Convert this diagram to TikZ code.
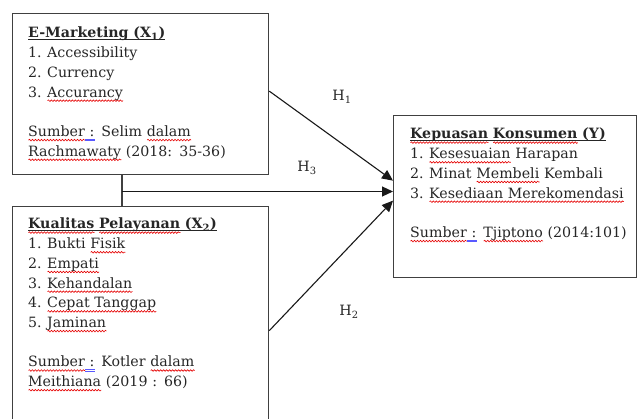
\documentclass[tikz,border=0pt]{standalone}
\usepackage{fontspec}
\setmainfont{DejaVu Serif}
\usetikzlibrary{arrows.meta,decorations.pathmorphing}
\newlength\wl
\newcommand\rw[1]{\leavevmode\settowidth\wl{#1}\rlap{\tikz[baseline=0pt]\draw[red!90!black, line width=0.6pt, decorate, decoration={snake, amplitude=0.8pt, segment length=3pt}] (0pt,-3.6pt) -- (\wl,-3.6pt);}#1}
\newcommand\bu[1]{\leavevmode\settowidth\wl{#1}\rlap{\tikz[baseline=0pt]{\draw[blue!65, line width=0.5pt] (0pt,-2.6pt) -- (\wl,-2.6pt); \draw[blue!65, line width=0.5pt] (0pt,-4pt) -- (\wl,-4pt);}}#1}
\newlength\ttlw
\newcommand\ttl[2]{\leavevmode\settowidth\ttlw{#1}\rlap{\rule[-2pt]{\ttlw}{0.7pt}}#2}
\newcommand\itm[1]{\makebox[19pt][l]{#1}}
\newcommand\fs{\fontsize{14.2}{19.7}\selectfont}
\begin{document}
\begin{tikzpicture}[x=1pt,y=-1pt,
  box/.style={draw=black!75, line width=1.3pt, inner sep=0, anchor=north west},
  txt/.style={anchor=base west, align=left, text width=235pt, inner sep=0, font=\fs, text=black!85},
  arr/.style={draw=black!90, line width=1.1pt, -{Triangle[length=11pt,width=10pt]}},
  conn/.style={draw=black!75, line width=1.1pt},
  lbl/.style={font=\fs, inner sep=0, text=black!85}]
\clip (0,0) rectangle (637,419);
\node[box, minimum width=256pt, minimum height=161pt] (b1) at (12,13) {};
\node[box, minimum width=256pt, minimum height=248pt] (b2) at (12,206) {};
\node[box, minimum width=243pt, minimum height=162pt] (bY) at (393,115) {};
\node[txt] (t1) at (28,38) {\ttl{\textbf{E-Marketing (X\textsubscript{1})}}{\textbf{E-Marketing (X\textsubscript{1})}}\\
\itm{1.}Accessibility\\
\itm{2.}Currency\\
\itm{3.}\rw{Accurancy}\\[19.7pt]
\rw{Sumber}\bu{~:} Selim \rw{dalam}\\
\rw{Rachmawaty} (2018: 35-36)};
\node[txt] (t2) at (28,229) {\ttl{\textbf{Kualitas Pelayanan (X\textsubscript{2})}}{\textbf{\rw{Kualitas} \rw{Pelayanan} (X\textsubscript{2})}}\\
\itm{1.}Bukti \rw{Fisik}\\
\itm{2.}\rw{Empati}\\
\itm{3.}\rw{Kehandalan}\\
\itm{4.}\rw{Cepat Tanggap}\\
\itm{5.}\rw{Jaminan}\\[19.7pt]
\rw{Sumber}\bu{~:} Kotler \rw{dalam}\\
\rw{Meithiana} (2019 : 66)};
\node[txt] (tY) at (410,139) {\ttl{\textbf{Kepuasan Konsumen (Y)}}{\textbf{\rw{Kepuasan} \rw{Konsumen} (Y)}}\\
\itm{1.}\rw{Kesesuaian} Harapan\\
\itm{2.}Minat \rw{Membeli} Kembali\\
\itm{3.}\rw{Kesediaan Merekomendasi}\\[19.7pt]
\rw{Sumber}\bu{~:} \rw{Tjiptono} (2014:101)};
\coordinate (j) at (122,191.5);
\draw[conn] (j |- b1.south) -- (j |- b2.north);
\draw[arr] (j) -- (j -| bY.west);
\draw[arr] ([yshift=3pt]b1.east) -- ([yshift=16pt]bY.west);
\draw[arr] (b2.east) -- ([yshift=-4pt]bY.west);
\node[lbl] (h1) at (342,97) {H\textsubscript{1}};
\node[lbl] (h3) at (307,168) {H\textsubscript{3}};
\node[lbl] (h2) at (349,312) {H\textsubscript{2}};
\end{tikzpicture}
\end{document}
